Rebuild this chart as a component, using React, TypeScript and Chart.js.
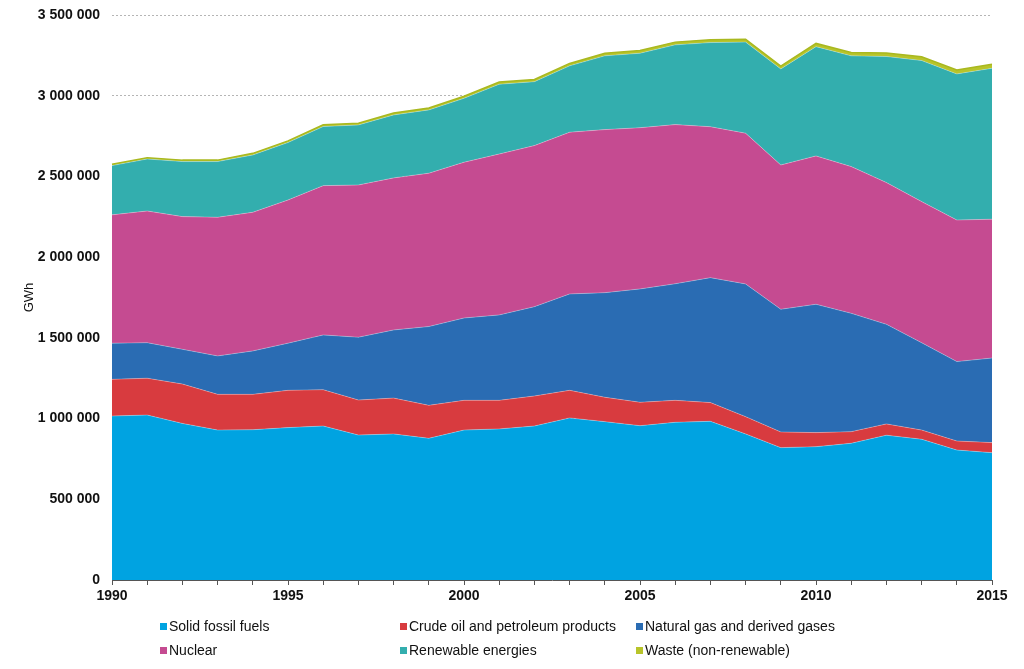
import React, { useEffect, useRef } from "react";
import { Chart, registerables } from "chart.js";

Chart.register(...registerables);

const years = [
  "1990", "1991", "1992", "1993", "1994", "1995", "1996", "1997", "1998", "1999",
  "2000", "2001", "2002", "2003", "2004", "2005", "2006", "2007", "2008", "2009",
  "2010", "2011", "2012", "2013", "2014", "2015",
];

// GWh values
const solidFossil = [
  1016000, 1022000, 970000, 929000, 931000, 944000, 954000, 898000, 905000, 878000,
  929000, 936000, 954000, 1004000, 981000, 956000, 977000, 983000, 905000, 820000,
  826000, 847000, 897000, 872000, 805000, 789000,
];
const crudeOil = [
  227000, 228000, 244000, 221000, 219000, 231000, 225000, 217000, 222000, 204000,
  184000, 177000, 186000, 171000, 151000, 145000, 136000, 116000, 107000, 97000,
  87000, 72000, 70000, 57000, 56000, 62000,
];
const naturalGas = [
  224000, 220000, 215000, 238000, 269000, 292000, 339000, 389000, 422000, 488000,
  510000, 529000, 553000, 597000, 648000, 702000, 722000, 774000, 822000, 760000,
  795000, 733000, 617000, 541000, 492000, 524000,
];
const nuclear = [
  795000, 816000, 822000, 859000, 859000, 887000, 925000, 943000, 942000, 950000,
  965000, 997000, 998000, 1002000, 1010000, 999000, 986000, 935000, 934000, 894000,
  919000, 909000, 878000, 874000, 877000, 860000,
];
const renewables = [
  305000, 322000, 341000, 345000, 355000, 356000, 366000, 372000, 390000, 392000,
  396000, 432000, 396000, 411000, 457000, 461000, 494000, 521000, 564000, 595000,
  677000, 686000, 781000, 874000, 905000, 935000,
];
const waste = [
  8000, 8000, 9000, 9000, 10000, 10000, 11000, 11000, 12000, 12000,
  13000, 14000, 14000, 15000, 16000, 17000, 17000, 18000, 18000, 18000,
  20000, 21000, 22000, 23000, 24000, 25000,
];

const seriesNames = [
  "Solid fossil fuels",
  "Crude oil and petroleum products",
  "Natural gas and derived gases",
  "Nuclear",
  "Renewable energies",
  "Waste (non-renewable)",
];
const seriesColors = ["#00a3e1", "#d83b3f", "#2a6cb3", "#c54b91", "#33aeae", "#b8c42a"];

const fmt = (v: number) => String(v).replace(/\B(?=(\d{3})+(?!\d))/g, " ");

export default function App() {
  const ref = useRef<HTMLCanvasElement | null>(null);

  useEffect(() => {
    document.body.style.margin = "0";
    const ctx = ref.current!.getContext("2d")!;
    const values = [solidFossil, crudeOil, naturalGas, nuclear, renewables, waste];
    const chart = new Chart(ctx, {
      type: "line",
      data: {
        labels: years,
        datasets: values.map((d, i) => ({
          label: seriesNames[i],
          data: d,
          backgroundColor: seriesColors[i],
          borderColor: i === 5 ? "#a9b81f" : "rgba(255,255,255,0.35)",
          borderWidth: i === 5 ? 1.5 : 0.8,
          fill: i === 0 ? "origin" : "-1",
          pointRadius: 0,
          tension: 0,
        })),
      },
      options: {
        animation: false,
        responsive: false,
        maintainAspectRatio: false,
        layout: { padding: { top: 15, right: 32, left: 0, bottom: 0 } },
        plugins: {
          legend: { display: false },
          tooltip: { enabled: false },
        },
        scales: {
          x: {
            type: "category",
            offset: false,
            afterFit: (s: any) => {
              s.height = 89;
            },
            grid: {
              display: true,
              drawOnChartArea: false,
              drawTicks: true,
              tickLength: 5,
              tickColor: "#555",
            },
            border: { display: true, color: "#555", width: 1 },
            ticks: {
              autoSkip: false,
              maxRotation: 0,
              padding: 3,
              color: "#111",
              font: { family: "'Liberation Sans', Arial, sans-serif", size: 14, weight: "bold" },
              callback: (_v: any, i: number) => (Number(years[i]) % 5 === 0 ? years[i] : ""),
            },
          },
          y: {
            stacked: true,
            min: 0,
            max: 3500000,
            afterFit: (s: any) => {
              s.width = 112;
              s.paddingTop = 0;
              s.paddingBottom = 0;
            },
            grid: {
              color: (c: any) => (c.tick && c.tick.value === 0 ? "rgba(0,0,0,0)" : "#b5b5b5"),
              drawTicks: false,
              lineWidth: 1,
            },
            border: { display: false, dash: [2, 2] },
            ticks: {
              stepSize: 500000,
              padding: 12,
              color: "#111",
              font: { family: "'Liberation Sans', Arial, sans-serif", size: 14, weight: "bold" },
              callback: (v: any) => fmt(Number(v)),
            },
            title: {
              display: true,
              text: "GWh",
              color: "#111",
              padding: { top: 22, bottom: 0 },
              font: { family: "'Liberation Sans', Arial, sans-serif", size: 13 },
            },
          },
        },
      },
    } as any);
    return () => chart.destroy();
  }, []);

  const cols = [160, 400, 636];
  const rows = [626, 650];

  return (
    <div style={{ position: "fixed", left: 0, top: 0, width: 1024, height: 669, background: "#fff" }}>
      <canvas ref={ref} width={1024} height={669} style={{ position: "absolute", left: 0, top: 0, width: 1024, height: 669 }} />
      {seriesNames.map((name, i) => (
        <div
          key={name}
          style={{
            position: "absolute",
            left: cols[i % 3],
            top: rows[Math.floor(i / 3)] - 9,
            height: 18,
            display: "flex",
            alignItems: "center",
            whiteSpace: "nowrap",
            fontFamily: "'Liberation Sans', Arial, sans-serif",
            fontSize: 14,
            color: "#111",
          }}
        >
          <span style={{ display: "inline-block", width: 7, height: 7, background: seriesColors[i], marginRight: 2 }} />
          <span>{name}</span>
        </div>
      ))}
    </div>
  );
}
